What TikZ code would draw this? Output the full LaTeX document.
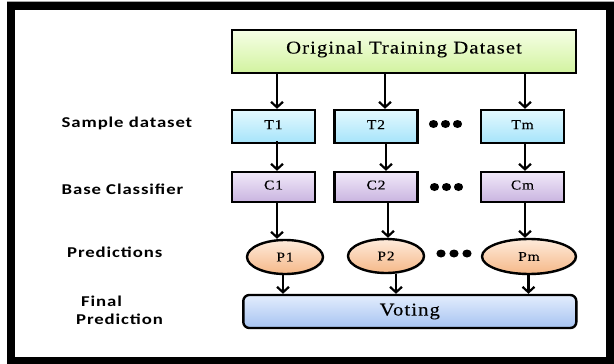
\documentclass[tikz,border=0pt]{standalone}
\usepackage{fontspec}
\setmainfont{Liberation Serif}[FakeStretch=1.15,LetterSpace=6,FakeBold=0.15]
\newfontfamily\lblfont{Carlito}[FakeStretch=1.25,LetterSpace=6]
\usetikzlibrary{arrows.meta,shapes.geometric,shadows}

\definecolor{srcTop}{HTML}{F6FFE6}
\definecolor{srcBot}{HTML}{D2F3A0}
\definecolor{smpTop}{HTML}{E4F9FF}
\definecolor{smpBot}{HTML}{A6E4FA}
\definecolor{clsTop}{HTML}{F1E9F9}
\definecolor{clsBot}{HTML}{C9B4E0}
\definecolor{prdTop}{HTML}{FEEBDB}
\definecolor{prdBot}{HTML}{F5B888}
\definecolor{votTop}{HTML}{E3EDFD}
\definecolor{votBot}{HTML}{A6C3F1}

\tikzset{
  boxbase/.style={draw=black, line width=2.4pt, inner sep=0pt,
    drop shadow={shadow xshift=1.2pt, shadow yshift=-1.2pt, opacity=0.3}},
  srcbox/.style={boxbase, top color=srcTop, bottom color=srcBot,
    minimum width=344pt, minimum height=43pt, font=\fontsize{18}{20}\selectfont},
  smpbox/.style={boxbase, top color=smpTop, bottom color=smpBot,
    minimum width=83pt, minimum height=33pt, font=\fontsize{13.5}{15}\selectfont},
  clsbox/.style={boxbase, top color=clsTop, bottom color=clsBot,
    minimum width=83pt, minimum height=30pt, font=\fontsize{13.5}{15}\selectfont},
  prdnode/.style={boxbase, ellipse, top color=prdTop, bottom color=prdBot,
    minimum width=76pt, minimum height=34pt, font=\fontsize{13.5}{15}\selectfont},
  votbox/.style={boxbase, rounded corners=6pt, top color=votTop, bottom color=votBot,
    minimum width=333pt, minimum height=33pt, font=\fontsize{18}{20}\selectfont},
  rowlabel/.style={anchor=west, inner sep=0pt, font=\lblfont\bfseries\fontsize{15}{18}\selectfont},
  arr/.style={line width=2.2pt, -{Straight Barb[length=5.5pt,width=12pt,line width=2.2pt]}},
}

\begin{document}
\begin{tikzpicture}[x=1pt,y=-1pt]
\useasboundingbox (0,0) rectangle (614,364);

% outer frame
\draw[gray!70, line width=1.5pt] (7,1.5) -- (614,1.5);
\draw[black, line width=8pt] (11,6) rectangle (610,361);

% row labels
\node[rowlabel] (lblS) at (61.5,123) {Sample dataset};
\node[rowlabel] (lblB) at (61.5,189) {Base Classifier};
\node[rowlabel] (lblP) at (67,252) {Predictions};
\node[rowlabel] (lblF1) at (81,301) {Final};
\node[rowlabel] (lblF2) at (76,319) {Prediction};

% original data
\node[srcbox] (src) at (404,51.3) {\raisebox{8pt}{Original Training Dataset}};

% bootstrap samples
\node[smpbox] (t1) at (273.5,126.5) {\raisebox{3.8pt}{T1}};
\node[smpbox] (t2) at (376,126.5) {\raisebox{3.8pt}{T2}};
\node[smpbox] (tm) at (522.5,126.5) {\raisebox{3.8pt}{Tm}};

% base classifiers
\node[clsbox] (c1) at (273.5,187) {\raisebox{4pt}{C1}};
\node[clsbox] (c2) at (376,187) {\raisebox{4pt}{C2}};
\node[clsbox] (cm) at (522.5,187) {\raisebox{4pt}{Cm}};

% predictions
\node[prdnode] (p1) at (285,257) {P1};
\node[prdnode] (p2) at (386,256) {P2};
\node[prdnode, minimum width=94pt, minimum height=35pt] (pm) at (529,256.5) {Pm};

% aggregation
\node[votbox] (vote) at (409.8,311.5) {Voting};

% ellipsis dots
\foreach \x in {433.5,445.5,457.5} \fill (\x,124) ellipse (4.6pt and 4pt);
\foreach \x in {434.5,446.5,458.5} \fill (\x,187) ellipse (4.6pt and 4pt);
\foreach \x in {441,454,467} \fill (\x,253.5) ellipse (4.6pt and 4pt);

% source -> samples
\draw[arr] ([xshift=3.5pt]t1.north |- src.south) -- ([xshift=3.5pt]t1.north);
\draw[arr] ([xshift=9pt]t2.north |- src.south) -- ([xshift=9pt]t2.north);
\draw[arr] ([xshift=2.5pt]tm.north |- src.south) -- ([xshift=2.5pt]tm.north);

% samples -> classifiers
\draw[arr] ([xshift=3.5pt,yshift=3pt]t1.south) -- ([xshift=3.5pt]c1.north);
\draw[arr] ([xshift=10pt]t2.south) -- ([xshift=10pt]c2.north);
\draw[arr] ([xshift=2.5pt]tm.south) -- ([xshift=2.5pt]cm.north);

% classifiers -> predictions
\draw[arr] ([xshift=3.5pt]c1.south) -- ([xshift=-8pt]p1.north);
\draw[arr] ([xshift=12pt]c2.south) -- ([xshift=2pt]p2.north);
\draw[arr] ([xshift=2.5pt]cm.south) -- ([xshift=-4pt]pm.north);

% predictions -> voting
\draw[arr] ([xshift=-2pt]p1.south) -- ([xshift=-2pt]p1.south |- vote.north);
\draw[arr] ([xshift=10pt]p2.south) -- ([xshift=10pt]p2.south |- vote.north);
\draw[arr] ([xshift=-0.5pt]pm.south) -- ([xshift=-0.5pt]pm.south |- vote.north);
\end{tikzpicture}
\end{document}
